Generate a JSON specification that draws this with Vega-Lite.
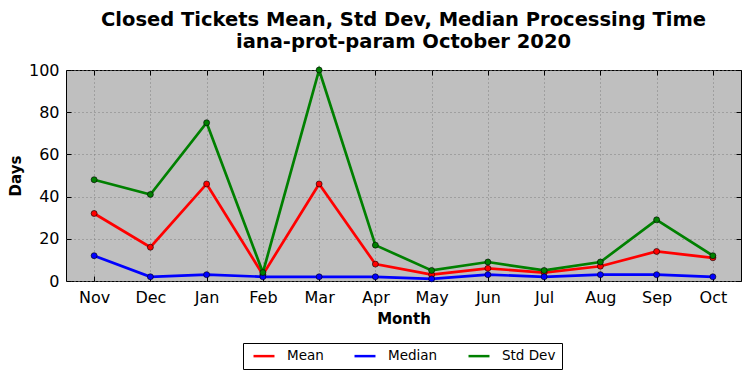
{
  "$schema": "https://vega.github.io/schema/vega-lite/v6.json",
  "width": 675,
  "height": 211,
  "autosize": {"type": "none"},
  "padding": {"left": 66, "top": 70, "right": 10, "bottom": 97},
  "background": "white",
  "title": {
    "text": ["Closed Tickets Mean, Std Dev, Median Processing Time", "iana-prot-param October 2020"],
    "font": "DejaVu Sans",
    "fontSize": 19.5,
    "fontWeight": "bold",
    "color": "black",
    "lineHeight": 22,
    "offset": 10,
    "anchor": "middle"
  },
  "config": {
    "view": {"fill": "#bfbfbf", "stroke": "black", "strokeWidth": 1},
    "font": "DejaVu Sans",
    "axis": {
      "labelFont": "DejaVu Sans",
      "labelFontSize": 16,
      "labelColor": "black",
      "titleFont": "DejaVu Sans",
      "titleFontSize": 15,
      "titleFontWeight": "bold",
      "titleColor": "black",
      "domain": false,
      "tickColor": "black",
      "tickSize": -5,
      "tickWidth": 1,
      "gridColor": "#7f7f7f",
      "gridDash": [1, 3],
      "gridWidth": 1,
      "gridOpacity": 1
    }
  },
  "data": {
    "values": [
      {"month": "Nov", "stat": "Mean", "days": 32},
      {"month": "Dec", "stat": "Mean", "days": 16},
      {"month": "Jan", "stat": "Mean", "days": 46},
      {"month": "Feb", "stat": "Mean", "days": 3},
      {"month": "Mar", "stat": "Mean", "days": 46},
      {"month": "Apr", "stat": "Mean", "days": 8},
      {"month": "May", "stat": "Mean", "days": 3},
      {"month": "Jun", "stat": "Mean", "days": 6},
      {"month": "Jul", "stat": "Mean", "days": 4},
      {"month": "Aug", "stat": "Mean", "days": 7},
      {"month": "Sep", "stat": "Mean", "days": 14},
      {"month": "Oct", "stat": "Mean", "days": 11},
      {"month": "Nov", "stat": "Median", "days": 12},
      {"month": "Dec", "stat": "Median", "days": 2},
      {"month": "Jan", "stat": "Median", "days": 3},
      {"month": "Feb", "stat": "Median", "days": 2},
      {"month": "Mar", "stat": "Median", "days": 2},
      {"month": "Apr", "stat": "Median", "days": 2},
      {"month": "May", "stat": "Median", "days": 1},
      {"month": "Jun", "stat": "Median", "days": 3},
      {"month": "Jul", "stat": "Median", "days": 2},
      {"month": "Aug", "stat": "Median", "days": 3},
      {"month": "Sep", "stat": "Median", "days": 3},
      {"month": "Oct", "stat": "Median", "days": 2},
      {"month": "Nov", "stat": "Std Dev", "days": 48},
      {"month": "Dec", "stat": "Std Dev", "days": 41},
      {"month": "Jan", "stat": "Std Dev", "days": 75},
      {"month": "Feb", "stat": "Std Dev", "days": 4},
      {"month": "Mar", "stat": "Std Dev", "days": 100},
      {"month": "Apr", "stat": "Std Dev", "days": 17},
      {"month": "May", "stat": "Std Dev", "days": 5},
      {"month": "Jun", "stat": "Std Dev", "days": 9},
      {"month": "Jul", "stat": "Std Dev", "days": 5},
      {"month": "Aug", "stat": "Std Dev", "days": 9},
      {"month": "Sep", "stat": "Std Dev", "days": 29},
      {"month": "Oct", "stat": "Std Dev", "days": 12}
    ]
  },
  "layer": [
    {
      "mark": {
        "type": "line",
        "strokeWidth": 2.7,
        "point": {"filled": true, "size": 36, "stroke": "black", "strokeWidth": 0.6}
      },
      "encoding": {
        "x": {
          "field": "month",
          "type": "ordinal",
          "sort": ["Nov", "Dec", "Jan", "Feb", "Mar", "Apr", "May", "Jun", "Jul", "Aug", "Sep", "Oct"],
          "scale": {"type": "point", "padding": 0.5},
          "axis": {"title": "Month", "labelAngle": 0, "labelPadding": 13, "titlePadding": 6, "grid": true}
        },
        "y": {
          "field": "days",
          "type": "quantitative",
          "scale": {"domain": [0, 100], "nice": false},
          "axis": {"title": "Days", "values": [0, 20, 40, 60, 80, 100], "labelPadding": 12, "titlePadding": 5, "grid": true}
        },
        "color": {
          "field": "stat",
          "type": "nominal",
          "scale": {"domain": ["Mean", "Median", "Std Dev"], "range": ["#ff0000", "#0000ff", "#008000"]},
          "legend": {
            "title": null,
            "orient": "none",
            "legendX": 177,
            "legendY": 273,
            "direction": "horizontal",
            "strokeColor": "black",
            "fillColor": "white",
            "padding": 6,
            "cornerRadius": 0,
            "symbolType": "M-1,0H3",
            "symbolSize": 110,
            "symbolOffset": 3,
            "symbolStrokeWidth": 2.5,
            "labelFont": "DejaVu Sans",
            "labelFontSize": 13.5,
            "labelColor": "black",
            "labelOffset": 21.5,
            "columnPadding": 25
          }
        }
      }
    },
    {
      "mark": {"type": "point", "opacity": 0},
      "encoding": {
        "x": {
          "field": "month",
          "type": "ordinal",
          "sort": ["Nov", "Dec", "Jan", "Feb", "Mar", "Apr", "May", "Jun", "Jul", "Aug", "Sep", "Oct"],
          "axis": {"orient": "top", "labels": false, "title": null, "grid": false}
        },
        "y": {
          "field": "days",
          "type": "quantitative",
          "axis": {"orient": "right", "labels": false, "title": null, "grid": false, "values": [0, 20, 40, 60, 80, 100]}
        }
      }
    }
  ],
  "resolve": {"axis": {"x": "independent", "y": "independent"}}
}
